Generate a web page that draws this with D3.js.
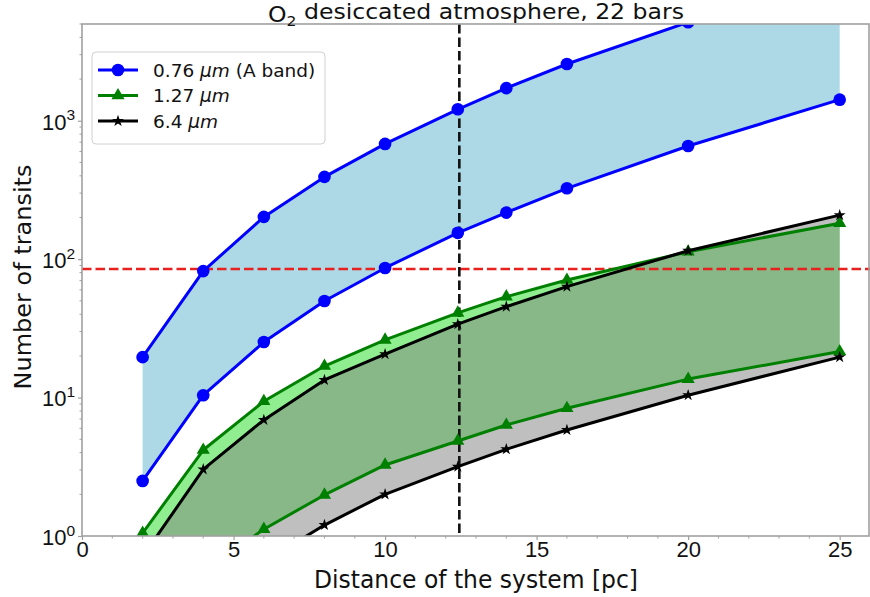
<!DOCTYPE html>
<html>
<head>
<meta charset="utf-8">
<script src="https://cdn.jsdelivr.net/npm/d3@7"></script>
<style>
  html, body { margin: 0; padding: 0; background: #fff; }
  svg { display: block; font-family: "DejaVu Sans", sans-serif; }
</style>
</head>
<body>
<svg id="chart" width="870" height="597"></svg>
<script>
// System distances [pc] and number of transits needed for each O2 band
const distances   = [2, 4, 6, 8, 10, 12.4, 14, 16, 20, 25];
const aBandHigh   = [19.6, 82, 202, 393, 680, 1210, 1720, 2570, 5150, 11300];
const aBandLow    = [2.5, 10.4, 25.2, 49.9, 86.4, 155, 217, 325, 657, 1420];
const band127High = [1.05, 4.18, 9.4, 16.9, 26.1, 40.9, 53.6, 70.7, 113, 182];
const band127Low  = [0.13, 0.55, 1.12, 1.98, 3.26, 4.86, 6.34, 8.37, 13.6, 21.5];
const band64High  = [0.71, 3.03, 6.9, 13.4, 20.6, 33.9, 45.4, 63.3, 115, 208];
const band64Low   = [0.065, 0.27, 0.65, 1.2, 2.0, 3.17, 4.23, 5.83, 10.4, 19.6];

const transitLimit = 85;      // horizontal reference level
const systemDistance = 12.45; // vertical reference distance

const xTicks = [0, 5, 10, 15, 20, 25];
const yTicks = [1, 10, 100, 1000];
const seriesLabels = ["0.76 ", "1.27 ", "6.4 "];

const svg = d3.select("#chart");
const L = 82, R = 870, T = 24, B = 536;

const x = d3.scaleLinear().domain([0, 26]).range([L, R]);
const y = d3.scaleLog().domain([1, 5000]).range([B, T]);

svg.append("defs").append("clipPath").attr("id", "plotClip")
  .append("rect").attr("x", L).attr("y", T).attr("width", R - L).attr("height", B - T);

const plot = svg.append("g").attr("clip-path", "url(#plotClip)");

const pts = arr => distances.map((d, i) => [d, arr[i]]);

const areaGen = (hi, lo) => d3.area()
  .x((d, i) => x(distances[i]))
  .y0((d, i) => y(lo[i]))
  .y1((d, i) => y(hi[i]))(distances);

const lineGen = d3.line().x(d => x(d[0])).y(d => y(d[1]));

// Filled ranges
plot.append("path").attr("d", areaGen(aBandHigh, aBandLow)).attr("fill", "#add8e6");
plot.append("path").attr("d", areaGen(band127High, band127Low)).attr("fill", "#90ee90");
plot.append("path").attr("d", areaGen(band64High, band64Low)).attr("fill", "#808080").attr("fill-opacity", 0.5);

// Reference lines
plot.append("line")
  .attr("x1", L).attr("x2", R).attr("y1", y(transitLimit)).attr("y2", y(transitLimit))
  .attr("stroke", "#e8201e").attr("stroke-width", 2.6).attr("stroke-dasharray", "9.5,4");
plot.append("line")
  .attr("x1", x(systemDistance)).attr("x2", x(systemDistance)).attr("y1", T).attr("y2", B)
  .attr("stroke", "#111").attr("stroke-width", 2.6).attr("stroke-dasharray", "9.5,4");

const markerPath = {
  circle: d3.symbol().type(d3.symbolCircle).size(125)(),
  triangle: d3.symbol().type(d3.symbolTriangle).size(75)(),
  star: d3.symbol().type(d3.symbolStar).size(44)()
};

function drawSeries(values, color, marker) {
  plot.append("path").datum(pts(values))
    .attr("d", lineGen).attr("fill", "none")
    .attr("stroke", color).attr("stroke-width", 3).attr("stroke-linejoin", "round");
  plot.append("g").selectAll("path").data(pts(values)).join("path")
    .attr("d", markerPath[marker])
    .attr("transform", d => `translate(${x(d[0])},${y(d[1])})`)
    .attr("fill", color);
}

drawSeries(aBandHigh, "#0000ff", "circle");
drawSeries(aBandLow, "#0000ff", "circle");
drawSeries(band127High, "#008000", "triangle");
drawSeries(band127Low, "#008000", "triangle");
drawSeries(band64High, "#000000", "star");
drawSeries(band64Low, "#000000", "star");

// Axes frame
const frame = "#a0a0a0";
svg.append("rect").attr("x", L).attr("y", T).attr("width", R - L - 1).attr("height", B - T)
  .attr("fill", "none").attr("stroke", frame).attr("stroke-width", 1.6);

// X axis
const xAxis = d3.axisBottom(x).tickValues(xTicks).tickSize(4).tickFormat(d3.format("d"));
const gx = svg.append("g").attr("transform", `translate(0,${B})`).call(xAxis);
gx.select(".domain").remove();
gx.selectAll(".tick line").attr("stroke", frame).attr("stroke-width", 1.2);
gx.selectAll(".tick text").attr("font-size", 22).attr("fill", "#111").attr("dy", "0.72em").attr("y", 5);
const xMinor = d3.range(1, 26).filter(v => v % 5 !== 0);
svg.append("g").selectAll("line").data(xMinor).join("line")
  .attr("x1", d => x(d)).attr("x2", d => x(d)).attr("y1", B).attr("y2", B + 2.5)
  .attr("stroke", frame).attr("stroke-width", 1);

// Y axis (log)
const yAxis = d3.axisLeft(y).tickValues(yTicks).tickSize(4).tickFormat(() => "");
const gy = svg.append("g").attr("transform", `translate(${L},0)`).call(yAxis);
gy.select(".domain").remove();
gy.selectAll(".tick line").attr("stroke", frame).attr("stroke-width", 1.2);
gy.selectAll(".tick text").remove();
gy.selectAll(".tick").append("text")
  .attr("x", -7).attr("dy", "0.38em").attr("text-anchor", "end")
  .attr("font-size", 22).attr("fill", "#111")
  .each(function(d) {
    const t = d3.select(this);
    t.append("tspan").text("10");
    t.append("tspan").attr("font-size", 15.5).attr("dy", "-0.6em").text(Math.round(Math.log10(d)));
  });
const yMinor = [];
[1, 10, 100, 1000].forEach(dec => d3.range(2, 10).forEach(m => { if (dec * m <= 5000) yMinor.push(dec * m); }));
svg.append("g").selectAll("line").data(yMinor).join("line")
  .attr("x1", L).attr("x2", L - 2.5).attr("y1", d => y(d)).attr("y2", d => y(d))
  .attr("stroke", frame).attr("stroke-width", 1);

// Titles
const title = svg.append("text").attr("x", (L + R) / 2).attr("y", 21.5)
  .attr("text-anchor", "middle").attr("font-size", 22).attr("fill", "#111")
  .attr("textLength", 416).attr("lengthAdjust", "spacingAndGlyphs");
title.append("tspan").text("O");
title.append("tspan").attr("font-size", 14.5).attr("dy", "0.3em").text("2");
title.append("tspan").attr("dy", "-0.3em").text(" desiccated atmosphere, 22 bars");

svg.append("text").attr("x", (L + R) / 2).attr("y", 588)
  .attr("text-anchor", "middle").attr("font-size", 24).attr("fill", "#111")
  .attr("textLength", 324).attr("lengthAdjust", "spacingAndGlyphs")
  .text("Distance of the system [pc]");

svg.append("text").attr("transform", `translate(31,${(T + B) / 2 - 3}) rotate(-90)`)
  .attr("text-anchor", "middle").attr("font-size", 23.5).attr("fill", "#111")
  .attr("textLength", 225).attr("lengthAdjust", "spacingAndGlyphs")
  .text("Number of transits");

// Legend
const lg = svg.append("g");
lg.append("rect").attr("x", 92).attr("y", 52).attr("width", 233).attr("height", 92).attr("rx", 4)
  .attr("fill", "#fff").attr("fill-opacity", 0.85).attr("stroke", "#d0d0d0").attr("stroke-width", 1);
const legendItems = [
  { label: seriesLabels[0], extra: " (A band)", color: "#0000ff", marker: "circle" },
  { label: seriesLabels[1], extra: "", color: "#008000", marker: "triangle" },
  { label: seriesLabels[2], extra: "", color: "#000000", marker: "star" }
];
legendItems.forEach((it, i) => {
  const cy = 70 + i * 25.5;
  lg.append("line").attr("x1", 98).attr("x2", 138).attr("y1", cy).attr("y2", cy)
    .attr("stroke", it.color).attr("stroke-width", 3);
  lg.append("path").attr("d", markerPath[it.marker])
    .attr("transform", `translate(118,${cy})`).attr("fill", it.color);
  const t = lg.append("text").attr("x", 153).attr("y", cy).attr("dy", "0.36em")
    .attr("font-size", 18.5).attr("fill", "#111");
  t.append("tspan").text(it.label);
  t.append("tspan").attr("font-style", "italic").text("\u03bcm");
  if (it.extra) t.append("tspan").text(it.extra);
});
</script>
</body>
</html>
